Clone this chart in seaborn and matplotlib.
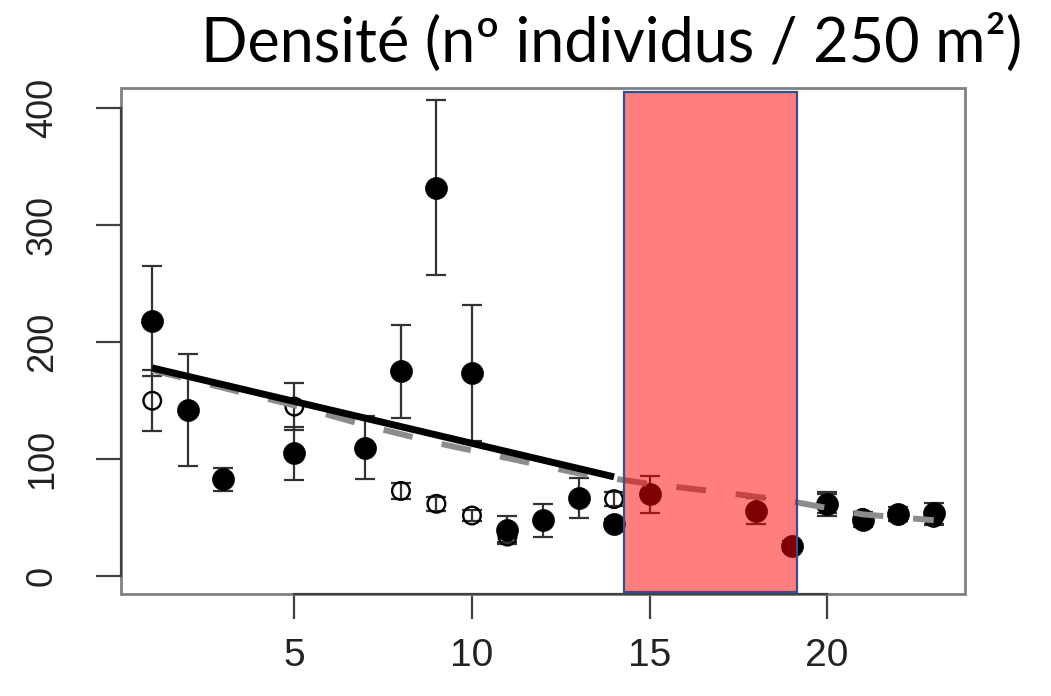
import matplotlib
matplotlib.use("Agg")
import matplotlib.pyplot as plt
from matplotlib.patches import Rectangle
import seaborn as sns

# Mean density per station (filled symbols) with standard errors
filled_x = [1, 2, 3, 5, 7, 8, 9, 10, 11, 12, 13, 14, 15, 18, 19, 20, 21, 22, 23]
filled_y = [218, 142, 83, 105, 110, 175, 332, 174, 40, 48, 67, 45, 70, 56, 26, 62, 48, 53, 54]
filled_err = [47, 48, 10, 23, 27, 40, 75, 58, 12, 14, 17, 4, 16, 11, 4, 10, 6, 6, 9]

# Second survey (open symbols)
open_x = [1, 5, 8, 9, 10, 11, 14, 20, 21, 22, 23]
open_y = [150, 145, 73, 62, 52, 34, 66, 62, 50, 52, 50]
open_err = [26, 20, 7, 6, 5, 5, 6, 8, 5, 5, 6]

# Linear trend over the first stations
trend_x = [1, 14]
trend_y = [178, 85]

# Decay curve over the whole transect
curve_x = [1, 3, 5, 7, 9, 11, 13, 15, 17, 19, 21, 23]
curve_y = [176, 161, 146, 129, 114, 101, 88, 79, 72, 64, 53, 48]

# Highlighted stretch of the transect
zone_x = [14.28, 19.16]
zone_y = [-13, 414]

x_ticks = [5, 10, 15, 20]
y_ticks = [0, 100, 200, 300, 400]
title = "Densité (nº individus / 250 m²)"

sns.set_style("white")
plt.rcParams["font.family"] = ["Liberation Sans", "DejaVu Sans"]

W, H = 1051, 696
fig = plt.figure(figsize=(W / 100, H / 100), dpi=100)
ax = fig.add_axes([121 / W, 1 - 594 / H, (965 - 121) / W, (594 - 88) / H])

err_kw = dict(fmt="none", ecolor="#333333", elinewidth=1.6, capsize=7, capthick=1.6)
ax.errorbar(filled_x, filled_y, yerr=filled_err, zorder=2, **err_kw)
ax.errorbar(open_x, open_y, yerr=open_err, zorder=2, **err_kw)

sns.scatterplot(x=open_x, y=open_y, ax=ax, s=160, marker="o",
                facecolors="none", edgecolors="black", linewidth=1.7, zorder=3)
sns.scatterplot(x=filled_x, y=filled_y, ax=ax, s=250, marker="o",
                color="black", edgecolor="black", linewidth=0.5, zorder=3)

sns.lineplot(x=curve_x, y=curve_y, ax=ax, color="#8c8c8c", linewidth=4.3,
             linestyle=(0, (5, 5)), zorder=4)
sns.lineplot(x=trend_x, y=trend_y, ax=ax, color="black", linewidth=5,
             solid_capstyle="butt", zorder=4)

ax.add_patch(Rectangle((zone_x[0], zone_y[0]), zone_x[1] - zone_x[0], zone_y[1] - zone_y[0],
                       facecolor=(1, 0, 0, 0.5), edgecolor="#2F528F", linewidth=1.6, zorder=5))

ax.set_xlim(0.12, 23.88)
ax.set_ylim(-15, 417)
ax.set_xticks(x_ticks)
ax.set_yticks(y_ticks)
ax.set_xticklabels([str(t) for t in x_ticks], fontsize=28)
ax.set_yticklabels([str(t) for t in y_ticks], fontsize=26, rotation=90, va="center")
ax.tick_params(axis="both", direction="out", length=18, width=1.6, color="#404040",
               labelcolor="#222222", bottom=True, left=True)
ax.tick_params(axis="x", pad=14)
ax.tick_params(axis="y", pad=26)

for side in ("top", "right"):
    ax.spines[side].set_visible(False)
ax.spines["left"].set_bounds(0, 400)
ax.spines["bottom"].set_bounds(5, 20)
for side in ("left", "bottom"):
    ax.spines[side].set_color("#404040")
    ax.spines[side].set_linewidth(1.6)
ax.add_patch(Rectangle((0, 0), 1, 1, transform=ax.transAxes, fill=False,
                       edgecolor="#808080", linewidth=2.0, clip_on=False, zorder=1))
ax.set_xlabel("")
ax.set_ylabel("")

fig.text(1022 / W, 1 - 62 / H, title, ha="right", va="baseline", fontsize=44,
         family=["Lato", "DejaVu Sans"], color="black")

fig.savefig("out.png", dpi=100, facecolor="white")
